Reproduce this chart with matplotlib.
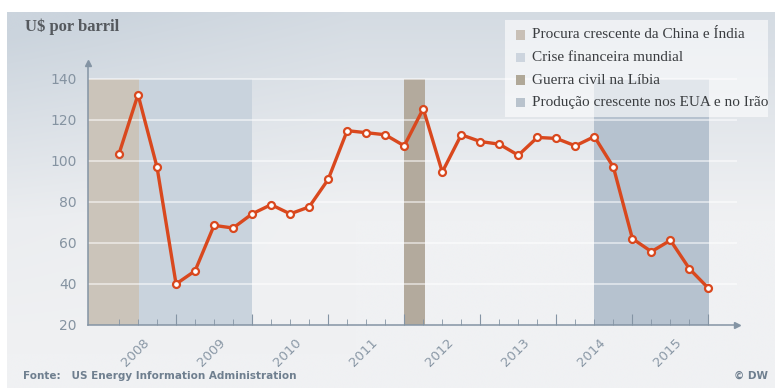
import numpy as np
import matplotlib
matplotlib.use('Agg')
import matplotlib.pyplot as plt
from matplotlib.patches import Rectangle
from matplotlib.transforms import blended_transform_factory

# preço médio do barril, amostras a cada ~3 meses (2008 - 2015)
prices = [103.5, 132.4, 97.0, 40.0, 46.4, 68.6, 67.3, 74.2, 78.7, 74.2, 77.6,
          91.0, 114.8, 113.8, 112.8, 107.4, 125.5, 94.6, 112.8, 109.5, 108.2,
          102.8, 111.5, 111.0, 107.4, 111.9, 97.0, 62.1, 55.8, 61.3, 47.4, 37.9]
years = ['2008', '2009', '2010', '2011', '2012', '2013', '2014', '2015']
yticks = [20, 40, 60, 80, 100, 120, 140]

period_labels = ['Procura crescente da China e Índia', 'Crise financeira mundial',
                 'Guerra civil na Líbia', 'Produção crescente nos EUA e no Irão']
period_spans = [(-1.63, 1.05), (1.05, 7.0), (15.0, 16.1), (25.0, 31.05)]
period_colors = ['#cbc4ba', '#c9d3dd', '#b3aa9d', '#b6c2cf']
swatch_colors = ['#c8c0b6', '#cdd5de', '#b0a898', '#b9c3cd']

W, H = 775, 388
fig = plt.figure(figsize=(W / 100, H / 100), dpi=100)
fig.patch.set_facecolor('white')

# fundo em degradê (mais escuro em cima e à esquerda)
bg = fig.add_axes([7 / W, 0, 1 - 7 / W, (H - 12) / H], zorder=-10)
u = np.linspace(0, 1, 300)[None, :]
v = np.linspace(0, 1, 150)[:, None]
t = np.clip(1 - v / 0.55, 0, 1) * 0.75 + np.clip(1 - u / 0.45, 0, 1) * 0.35 * np.clip(1 - v / 0.9, 0, 1)
t = np.clip(t, 0, 1)
light = np.array([240, 241, 243]) / 255
dark = np.array([203, 212, 221]) / 255
img = light[None, None, :] + t[:, :, None] * (dark - light)[None, None, :]
bg.imshow(img, aspect='auto', extent=[0, 1, 0, 1], interpolation='bicubic')
bg.axis('off')

x0, x1 = 88, 737
y0, y1 = 325, 63
ax = fig.add_axes([x0 / W, (H - y0) / H, (x1 - x0) / W, (y0 - y1) / H])
ax.patch.set_alpha(0)
ax.set_xlim(-1.63, 32.5)
ax.set_ylim(20, 147.8)

for (a, b), c in zip(period_spans, period_colors):
    ax.fill_between([a, b], 20, 140, color=c, lw=0, zorder=1)

for yv in yticks[1:]:
    ax.axhline(yv, color='white', lw=1.1, alpha=0.65, zorder=2)

x = np.arange(len(prices))
ax.plot(x, prices, color='#d9481e', lw=2.4, zorder=4,
        marker='o', ms=5, mfc='white', mec='#d9481e', mew=1.6)

# eixos com setas
for s in ['top', 'right']:
    ax.spines[s].set_visible(False)
for s in ['left', 'bottom']:
    ax.spines[s].set_color('#8494a4')
    ax.spines[s].set_linewidth(1.1)
ax.plot(1, 0, '>', color='#8494a4', ms=4, transform=ax.transAxes, clip_on=False)
ax.plot(0, 1, '^', color='#8494a4', ms=4, transform=ax.transAxes, clip_on=False)

ax.set_yticks(yticks)
ax.set_yticklabels([str(v) for v in yticks], color='#8593a1', fontsize=10)
ax.tick_params(axis='y', length=0, pad=8)

ax.set_xticks(x[3::4])
ax.set_xticks([i for i in x if i % 4 != 3], minor=True)
ax.tick_params(axis='x', which='major', direction='in', length=8, color='#8494a4', labelbottom=False)
ax.tick_params(axis='x', which='minor', direction='in', length=4, color='#8494a4')

trans = blended_transform_factory(ax.transData, ax.transAxes)
for k, yr in enumerate(years):
    ax.text(0.85 + 4 * k, -0.105, yr, transform=trans, rotation=45,
            ha='center', va='center', fontsize=9.5, color='#8a98a6')

fig.text(25 / W, 1 - 27 / H, 'U$ por barril', family='Liberation Serif',
         fontsize=12, color='#55595e', va='center', ha='left', fontweight='bold')

# legenda
fig.patches.append(Rectangle((505 / W, (H - 117) / H), 263 / W, 97 / H,
                             transform=fig.transFigure, facecolor='white',
                             alpha=0.6, lw=0, zorder=5))
for i, (lab, c) in enumerate(zip(period_labels, swatch_colors)):
    yc = 35 + i * 22.5
    fig.patches.append(Rectangle((516 / W, (H - yc - 4.5) / H), 9 / W, 9 / H,
                                 transform=fig.transFigure, facecolor=c,
                                 lw=0, zorder=6))
    fig.text(532 / W, (H - yc) / H, lab, family='Liberation Serif', fontsize=11,
             color='#3a3d40', va='center', ha='left', zorder=7)

fig.text(23 / W, (H - 376) / H, 'Fonte:   US Energy Information Administration',
         fontsize=7.5, color='#6f7f8f', fontweight='bold', va='center', ha='left')
fig.text(768 / W, (H - 376) / H, '© DW', fontsize=7.5, color='#6f7f8f',
         fontweight='bold', va='center', ha='right')

fig.savefig('out.png', dpi=100)
